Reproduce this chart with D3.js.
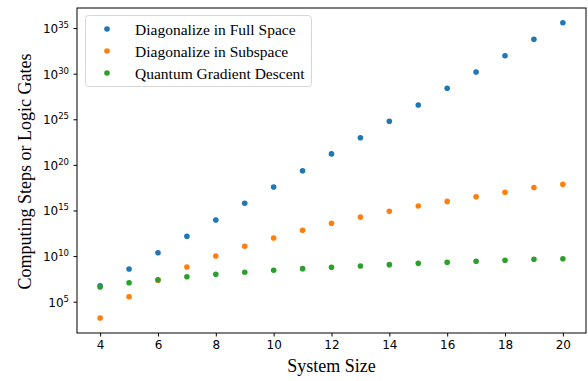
<!DOCTYPE html>
<html>
<head>
<meta charset="utf-8">
<script src="https://cdn.jsdelivr.net/npm/d3@7"></script>
<style>
  body { margin: 0; background: #fff; }
  svg { display: block; }
</style>
</head>
<body>
<script>
var w = 588;
var h = 381;
var margin = {top: 8, right: 2, bottom: 48, left: 77};

var sizes = [4, 5, 6, 7, 8, 9, 10, 11, 12, 13, 14, 15, 16, 17, 18, 19, 20];
var fullSpace = [5.6e6, 3.8e8, 2.3e10, 1.5e12, 9.1e13, 6.2e15, 3.8e17, 2.3e19, 1.6e21,
                 9.5e22, 6.0e24, 3.7e26, 2.5e28, 1.5e30, 9.3e31, 5.9e33, 3.9e35];
var subSpace = [1.6e3, 3.5e5, 2.2e7, 6.3e8, 1.0e10, 1.2e11, 9.5e11, 6.8e12, 4.0e13,
                1.9e14, 8.1e14, 3.1e15, 1.0e16, 3.2e16, 1.0e17, 3.3e17, 7.4e17];
var gradDescent = [4.1e6, 1.2e7, 2.6e7, 5.5e7, 1.0e8, 1.7e8, 2.8e8, 4.2e8, 5.9e8,
                   8.1e8, 1.15e9, 1.6e9, 2.1e9, 2.7e9, 3.5e9, 4.5e9, 5.1e9];
var seriesNames = ["Diagonalize in Full Space", "Diagonalize in Subspace", "Quantum Gradient Descent"];
var colors = ["#1f77b4", "#ff7f0e", "#2ca02c"];
var xTicks = [4, 6, 8, 10, 12, 14, 16, 18, 20];
var yTickExps = [5, 10, 15, 20, 25, 30, 35];

var series = [fullSpace, subSpace, gradDescent];

var svg = d3.select("body")
            .append("svg")
            .attr("width", w)
            .attr("height", h);

var x = d3.scaleLinear()
          .domain([3.2, 20.8])
          .range([margin.left, w - margin.right]);

var y = d3.scaleLog()
          .domain([Math.pow(10, 1.57), Math.pow(10, 37.2)])
          .range([h - margin.bottom, margin.top]);

// x axis
var xAxis = svg.append("g")
   .attr("transform", "translate(0," + (h - margin.bottom) + ")")
   .call(d3.axisBottom(x).tickValues(xTicks).tickSize(3.5).tickPadding(4).tickFormat(d3.format("d")));
xAxis.select(".domain").remove();
xAxis.selectAll("text")
     .attr("font-family", "DejaVu Sans, sans-serif")
     .attr("font-size", "12px")
     .attr("fill", "#000");

// y axis
var yAxis = svg.append("g")
   .attr("transform", "translate(" + margin.left + ",0)")
   .call(d3.axisLeft(y).tickValues(yTickExps.map(function(e){return Math.pow(10, e);})).tickSize(3.5).tickFormat(""));
yAxis.select(".domain").remove();

svg.append("g").selectAll("text")
   .data(yTickExps)
   .enter()
   .append("text")
   .attr("x", margin.left - 8)
   .attr("y", function(d){return y(Math.pow(10, d)) + 5;})
   .attr("text-anchor", "end")
   .attr("font-family", "DejaVu Sans, sans-serif")
   .attr("font-size", "12px")
   .attr("fill", "#000")
   .each(function(d){
     var t = d3.select(this);
     t.append("tspan").text("10");
     t.append("tspan").attr("dy", -5).attr("font-size", "8.5px").text(d);
   });

// frame
svg.append("rect")
   .attr("x", margin.left)
   .attr("y", margin.top)
   .attr("width", w - margin.left - margin.right)
   .attr("height", h - margin.top - margin.bottom)
   .attr("fill", "none")
   .attr("stroke", "#000")
   .attr("stroke-width", 1);

// points
series.forEach(function(vals, k){
  svg.append("g").selectAll("circle")
     .data(vals)
     .enter()
     .append("circle")
     .attr("cx", function(d, i){return x(sizes[i]);})
     .attr("cy", function(d){return y(d);})
     .attr("r", 2.8)
     .attr("fill", colors[k]);
});

// legend
var legend = svg.append("g");
legend.append("rect")
      .attr("x", 85.5)
      .attr("y", 15.5)
      .attr("width", 226)
      .attr("height", 71)
      .attr("rx", 3)
      .attr("fill", "#fff")
      .attr("fill-opacity", 0.8)
      .attr("stroke", "#d6d6d6")
      .attr("stroke-width", 1);

legend.selectAll("circle")
      .data(seriesNames)
      .enter()
      .append("circle")
      .attr("cx", 107)
      .attr("cy", function(d, i){return 29 + i * 22;})
      .attr("r", 2.8)
      .attr("fill", function(d, i){return colors[i];});

legend.selectAll("text")
      .data(seriesNames)
      .enter()
      .append("text")
      .attr("x", 135)
      .attr("y", function(d, i){return 34.5 + i * 22;})
      .attr("font-family", "Liberation Serif, Times New Roman, serif")
      .attr("font-size", "15.5px")
      .attr("fill", "#000")
      .text(function(d){return d;});

// axis labels
svg.append("text")
   .attr("x", (margin.left + w - margin.right) / 2)
   .attr("y", 372)
   .attr("text-anchor", "middle")
   .attr("font-family", "Liberation Serif, Times New Roman, serif")
   .attr("font-size", "18px")
   .text("System Size");

svg.append("text")
   .attr("transform", "translate(30.5," + ((margin.top + h - margin.bottom) / 2 + 1) + ") rotate(-90)")
   .attr("text-anchor", "middle")
   .attr("font-family", "Liberation Serif, Times New Roman, serif")
   .attr("font-size", "18px")
   .text("Computing Steps or Logic Gates");
</script>
</body>
</html>
